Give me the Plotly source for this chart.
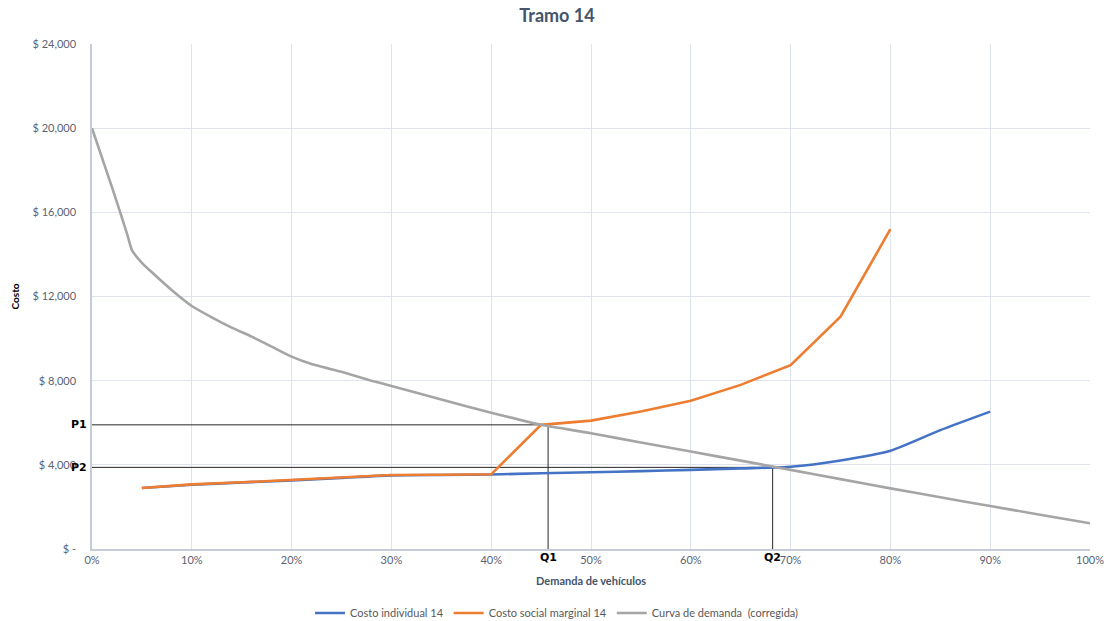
import plotly.graph_objects as go

# Demand share (fraction of capacity) and cost series for "Tramo 14"
demanda_x = [0.00, 0.02, 0.035, 0.04, 0.05, 0.06, 0.08, 0.10, 0.12, 0.14, 0.16, 0.18,
             0.20, 0.22, 0.25, 0.28, 0.30, 0.35, 0.40, 0.45, 0.50, 0.55, 0.60,
             0.65, 0.70, 0.75, 0.80, 0.85, 0.90, 0.95, 1.00]
demanda_y = [20000, 17200, 15000, 14200, 13600, 13150, 12300, 11550, 11010, 10520, 10090, 9620,
             9140, 8790, 8420, 8000, 7750, 7100, 6480, 5900, 5500, 5060, 4630,
             4200, 3760, 3320, 2880, 2460, 2040, 1630, 1220]

costo_x = [0.05, 0.10, 0.15, 0.20, 0.25, 0.30, 0.35, 0.40, 0.45, 0.50, 0.55, 0.60,
           0.65, 0.70, 0.75, 0.80, 0.85, 0.90]
costo_ind = [2900, 3050, 3160, 3260, 3380, 3500, 3520, 3540, 3600, 3645, 3700, 3760,
             3830, 3910, 4210, 4670, 5650, 6530]

social_x = [0.05, 0.10, 0.15, 0.20, 0.25, 0.30, 0.35, 0.40, 0.45, 0.50, 0.55, 0.60,
            0.65, 0.70, 0.75, 0.80]
costo_soc = [2900, 3070, 3170, 3280, 3390, 3520, 3530, 3550, 5900, 6100, 6530, 7050,
             7800, 8740, 11040, 15200]

# Equilibrium points: (Q1, P1) social optimum, (Q2, P2) private equilibrium
eq_labels_q = ["Q1", "Q2"]
eq_labels_p = ["P1", "P2"]
eq_q = [0.457, 0.682]
eq_p = [5900, 3880]

y_ticks = [0, 4000, 8000, 12000, 16000, 20000, 24000]
y_ticktext = ["$ -", "$ 4,000", "$ 8,000", "$ 12,000", "$ 16,000", "$ 20,000", "$ 24,000"]
x_ticks = [i / 10 for i in range(11)]
x_ticktext = [f"{i * 10}%" for i in range(11)]

FONT = "Lato, 'Open Sans', sans-serif"
TXT = "#596273"

fig = go.Figure()

# Guide lines to the axes from each equilibrium point
for q, p in zip(eq_q, eq_p):
    fig.add_trace(go.Scatter(x=[0, q, q], y=[p, p, 0], mode="lines",
                             line=dict(color="#262626", width=1),
                             showlegend=False, hoverinfo="skip"))

fig.add_trace(go.Scatter(x=costo_x, y=costo_ind, mode="lines",
                         name="Costo individual 14",
                         line=dict(color="#4472C4", width=2.6, shape="spline", smoothing=0.6)))
fig.add_trace(go.Scatter(x=social_x, y=costo_soc, mode="lines",
                         name="Costo social marginal 14",
                         line=dict(color="#ED7D31", width=2.6)))
fig.add_trace(go.Scatter(x=demanda_x, y=demanda_y, mode="lines",
                         name="Curva de demanda  (corregida)",
                         line=dict(color="#A5A5A5", width=2.6, shape="spline", smoothing=0.4)))

annotations = []
for lab, p in zip(eq_labels_p, eq_p):
    annotations.append(dict(x=0, y=p, xref="paper", yref="y", text=f"<b>{lab}</b>",
                            showarrow=False, xanchor="right", yanchor="middle", xshift=-3,
                            font=dict(family="DejaVu Sans", size=11, color="#000000")))
for lab, q in zip(eq_labels_q, eq_q):
    annotations.append(dict(x=q, y=0, xref="x", yref="y", text=f"<b>{lab}</b>",
                            showarrow=False, xanchor="center", yanchor="top", yshift=0,
                            font=dict(family="DejaVu Sans", size=11, color="#000000")))
# Axis titles
annotations.append(dict(x=0.5, y=-0.062, xref="paper", yref="paper",
                        text="<b>Demanda de vehículos</b>", showarrow=False,
                        xanchor="center", yanchor="middle",
                        font=dict(family=FONT, size=11, color="#44546A")))
annotations.append(dict(x=14, y=0.5, xref="paper", yref="paper", xshift=0,
                        text="<b>Costo</b>", showarrow=False, textangle=-90,
                        xanchor="center", yanchor="middle",
                        font=dict(family=FONT, size=10, color="#000000")))
annotations[-1]["x"] = (14 - 92) / 998

fig.update_layout(
    width=1114, height=621,
    margin=dict(l=92, r=24, t=44, b=72, autoexpand=False),
    paper_bgcolor="white", plot_bgcolor="white",
    font=dict(family=FONT, color=TXT, size=11),
    title=dict(text="<b>Tramo 14</b>", x=0.5, xanchor="center", y=0.975, yanchor="middle",
               font=dict(family=FONT, size=18, color="#44546A")),
    annotations=annotations,
    legend=dict(orientation="h", x=0.5, xref="container", xanchor="center",
                y=0.013, yref="container", yanchor="middle",
                font=dict(family=FONT, size=11, color="#595959"), itemwidth=30,
                bgcolor="rgba(0,0,0,0)"),
    xaxis=dict(range=[0, 1], tickvals=x_ticks, ticktext=x_ticktext,
               showgrid=True, gridcolor="#DFE3EB", gridwidth=1,
               showline=True, linecolor="#C5CCD8", linewidth=1.5,
               zeroline=False, ticks="", automargin=False,
               tickfont=dict(size=11, color=TXT)),
    yaxis=dict(range=[0, 24000], tickvals=y_ticks, ticktext=y_ticktext,
               showgrid=True, gridcolor="#DFE3EB", gridwidth=1,
               showline=True, linecolor="#C5CCD8", linewidth=1.5,
               zeroline=False, ticks="", ticklabelstandoff=12, automargin=False,
               tickfont=dict(size=11, color=TXT)),
)

fig.write_html("out.html")
